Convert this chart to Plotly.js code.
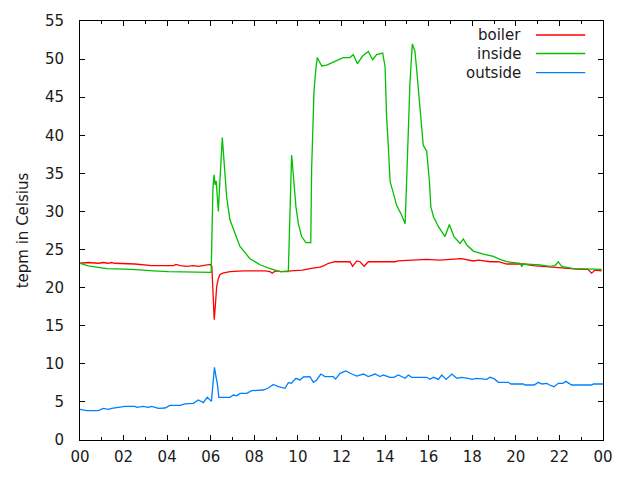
<!DOCTYPE html>
<html>
<head>
<meta charset="utf-8">
<script src="https://cdn.plot.ly/plotly-3.0.1.min.js"></script>
<style>html,body{margin:0;padding:0;background:#fff;}#chart{width:640px;height:480px;}</style>
</head>
<body>
<div id="chart"></div>
<script>
// Time of day in hours (0-24)
const boilerTime = [0,0.38,0.84,1.07,1.3,1.45,1.6,2.52,3.29,4.3,4.4,4.6,4.9,5.2,5.43,5.66,5.97,6.05,6.12,6.16,6.22,6.27,6.35,6.42,6.55,6.88,7.5,8.5,8.72,8.82,8.92,9.03,9.2,9.9,10.2,10.55,11.01,11.2,11.4,11.7,12.39,12.51,12.62,12.7,12.85,13.04,13.23,14.46,14.6,15.3,15.9,16.5,17.2,17.5,18.05,18.3,18.82,19.2,19.58,20.35,20.8,21.57,22.33,22.95,23.3,23.48,23.63,23.94];
const boilerTemp = [23.2,23.3,23.2,23.3,23.2,23.3,23.2,23.1,22.9,22.9,23.05,22.9,22.8,22.9,22.8,22.9,23.05,22.8,18.5,15.8,18.0,20.1,21.2,21.7,21.9,22.1,22.2,22.2,22.1,21.9,22.1,22.2,22.1,22.2,22.3,22.5,22.7,22.9,23.2,23.4,23.4,22.8,23.2,23.5,23.4,22.8,23.4,23.4,23.5,23.6,23.7,23.6,23.7,23.8,23.5,23.6,23.4,23.4,23.1,23.1,22.9,22.7,22.5,22.4,22.4,21.9,22.3,22.2];

const insideTime = [0,0.23,0.38,1.22,2.37,3.37,4.05,6.02,6.06,6.1,6.15,6.2,6.25,6.3,6.35,6.4,6.47,6.53,6.6,6.68,6.73,6.88,7.04,7.34,7.8,8.26,8.72,9.03,9.2,9.56,9.62,9.67,9.71,9.74,9.82,9.91,10.02,10.17,10.37,10.59,10.63,10.68,10.74,10.82,10.89,11.09,11.32,11.7,12.08,12.39,12.54,12.73,12.97,13.23,13.43,13.61,13.89,14.0,14.07,14.15,14.23,14.38,14.53,14.76,14.92,14.99,15.07,15.14,15.25,15.37,15.45,15.57,15.68,15.75,15.91,16.03,16.1,16.22,16.45,16.75,16.95,17.16,17.44,17.59,17.75,18.05,18.51,18.97,19.27,19.58,20.19,20.27,20.35,21.11,21.57,21.8,21.95,22.1,22.64,23.94];
const insideTemp = [23.2,23.0,22.85,22.5,22.4,22.2,22.1,22.0,27,33,34.8,33.5,34,31,30.0,33,37,39.7,37,33.5,31.9,28.9,27.6,25.4,23.8,23.0,22.5,22.3,22.1,22.1,29.7,34.8,37.4,36.5,33.9,30.6,28.4,26.7,25.9,25.9,35.7,42.0,45.9,48.6,50.2,49.1,49.2,49.7,50.2,50.2,50.6,49.4,50.4,51.0,49.9,50.6,50.8,49.0,42.4,38.5,33.9,32.4,30.8,29.5,28.4,34.1,41.1,46.8,52.0,51.0,48.6,44.2,41.1,38.7,37.9,34.1,30.6,29.3,28.0,26.7,28.3,26.7,25.8,26.4,25.6,24.8,24.4,24.1,23.7,23.4,23.2,22.8,23.1,23.0,22.8,22.9,23.4,22.8,22.5,22.4];

const outsideTime = [0,0.31,0.84,1.07,1.3,1.45,1.76,2.07,2.52,2.6,2.9,3.13,3.29,3.6,3.9,4.13,4.59,4.82,5.2,5.43,5.66,5.84,6.03,6.09,6.17,6.24,6.3,6.37,6.88,7.04,7.2,7.34,7.65,7.88,8.41,8.64,8.87,9.1,9.41,9.56,9.7,9.91,10.1,10.25,10.55,10.71,10.86,11.05,11.24,11.62,11.73,11.93,12.2,12.47,12.7,13.0,13.23,13.54,13.77,13.92,14.23,14.4,14.61,14.92,15.07,15.22,15.91,16.06,16.22,16.45,16.6,16.8,17.06,17.29,17.5,17.82,17.98,18.2,18.66,18.82,19.0,19.2,19.66,19.77,20.35,20.42,20.84,21.03,21.2,21.42,21.55,21.75,21.95,22.15,22.3,22.56,23.48,23.56,24];
const outsideTemp = [4.03,3.85,3.85,4.16,4.03,4.16,4.29,4.42,4.42,4.29,4.42,4.29,4.42,4.16,4.2,4.55,4.55,4.73,4.81,5.25,4.9,5.6,5.07,7.44,9.54,8.32,7.44,5.6,5.6,5.9,5.8,6.12,6.12,6.47,6.56,6.82,7.3,7.0,6.78,7.53,7.45,8.1,7.88,8.27,8.32,7.57,7.88,8.66,8.32,8.32,8.0,8.75,9.06,8.66,8.4,8.66,8.32,8.66,8.32,8.53,8.23,8.23,8.53,8.1,8.53,8.23,8.23,7.96,8.23,7.96,8.53,7.96,8.66,8.1,8.23,8.1,7.96,8.1,7.96,8.23,8.05,7.57,7.57,7.35,7.35,7.22,7.22,7.57,7.35,7.44,7.22,7.0,7.44,7.44,7.7,7.22,7.22,7.35,7.35];

const seriesNames = ["boiler", "inside", "outside"];
const seriesColors = ["#ff0000", "#00c000", "#0080ff"];
const xTickVals = [0,2,4,6,8,10,12,14,16,18,20,22,24];
const xTickText = ["00","02","04","06","08","10","12","14","16","18","20","22","00"];

const font = {family: "DejaVu Sans", size: 15, color: "#1a1a1a"};
const times = [boilerTime, insideTime, outsideTime];
const temps = [boilerTemp, insideTemp, outsideTemp];

const traces = seriesNames.map((n, i) => ({
  x: times[i], y: temps[i], name: n, type: "scatter", mode: "lines",
  line: {color: seriesColors[i], width: 1.3}, showlegend: false, hoverinfo: "skip"
}));

// gnuplot-style key: text on the left, line sample on the right
const keyY = [0.9666, 0.9224, 0.877];
const annotations = seriesNames.map((n, i) => ({
  xref: "paper", yref: "paper", x: 0.847, y: keyY[i], xanchor: "right", yanchor: "middle",
  text: n, showarrow: false, font: font
}));
const shapes = seriesNames.map((n, i) => ({
  type: "line", xref: "paper", yref: "paper", x0: 0.872, x1: 0.966, y0: keyY[i], y1: keyY[i],
  line: {color: seriesColors[i], width: 1.3}
}));

const layout = {
  width: 640, height: 480,
  margin: {l: 80, r: 37, t: 21, b: 40},
  paper_bgcolor: "#fff", plot_bgcolor: "#fff",
  font: font,
  xaxis: {
    range: [0, 24], tickvals: xTickVals, ticktext: xTickText,
    ticks: "inside", ticklen: 5, tickcolor: "#000", tickwidth: 1,
    showline: true, linecolor: "#000", linewidth: 1, mirror: "ticks",
    showgrid: false, zeroline: false, fixedrange: true,
    minor: {dtick: 1, tick0: 0, ticks: "inside", ticklen: 3, tickcolor: "#000", showgrid: false},
    ticklabelstandoff: 3
  },
  yaxis: {
    range: [0, 55], dtick: 5, tick0: 0,
    ticks: "inside", ticklen: 5, tickcolor: "#000", tickwidth: 1,
    showline: true, linecolor: "#000", linewidth: 1, mirror: "ticks",
    showgrid: false, zeroline: false, fixedrange: true,
    ticklabelstandoff: 12,
    title: {text: "tepm in Celsius", font: font, standoff: 12}
  },
  annotations: annotations,
  shapes: shapes
};

Plotly.newPlot("chart", traces, layout, {staticPlot: true, displayModeBar: false});
</script>
</body>
</html>
